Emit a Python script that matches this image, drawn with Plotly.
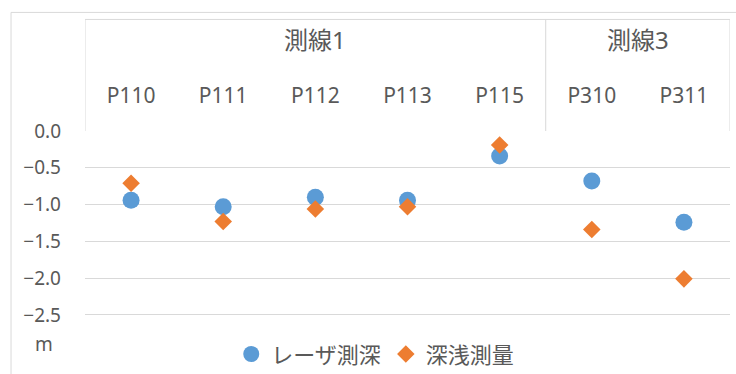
import plotly.graph_objects as go

categories = ["P110", "P111", "P112", "P113", "P115", "P310", "P311"]
groups = ["測線1", "測線1", "測線1", "測線1", "測線1", "測線3", "測線3"]
laser = [-0.94, -1.03, -0.90, -0.94, -0.34, -0.68, -1.24]
sounding = [-0.71, -1.23, -1.06, -1.03, -0.19, -1.34, -2.01]
y_ticks = [0.0, -0.5, -1.0, -1.5, -2.0, -2.5]

FONT = "Noto Sans, Noto Sans CJK JP"
TXT = "#595959"
GRID = "#d9d9d9"

fig = go.Figure()
fig.add_trace(go.Scatter(x=categories, y=laser, mode="markers", name="レーザ測深",
                         marker=dict(symbol="circle", size=17, color="#5B9BD5")))
fig.add_trace(go.Scatter(x=categories, y=sounding, mode="markers", name="深浅測量",
                         marker=dict(symbol="diamond", size=13.5, color="#ED7D31")))

# group labels and boxes
shapes = []
annotations = []
n = len(categories)
box_top = 1.603
start = 0
for i in range(1, n + 1):
    if i == n or groups[i] != groups[start]:
        center = (start + i - 1) / 2
        annotations.append(dict(x=center, y=1.495, xref="x", yref="paper", text=groups[start],
                                showarrow=False, font=dict(size=24, color=TXT, family=FONT),
                                xanchor="center", yanchor="middle"))
        shapes.append(dict(type="line", xref="x", yref="paper", x0=i - 0.5, x1=i - 0.5,
                           y0=1, y1=box_top, line=dict(color=GRID, width=1)))
        start = i
shapes.append(dict(type="line", xref="x", yref="paper", x0=-0.5, x1=-0.5, y0=1, y1=box_top,
                   line=dict(color=GRID, width=1)))
shapes.append(dict(type="line", xref="x", yref="paper", x0=-0.5, x1=n - 0.5, y0=box_top, y1=box_top,
                   line=dict(color=GRID, width=1)))
# outer chart border
shapes.append(dict(type="rect", xref="paper", yref="paper", x0=-0.1147, x1=1.05, y0=-0.4, y1=1.641,
                   line=dict(color=GRID, width=1)))

annotations.append(dict(x=-0.0636, y=-0.152, xref="paper", yref="paper", text="m", showarrow=False,
                        font=dict(size=19, color=TXT, family=FONT), xanchor="center", yanchor="middle"))

fig.update_layout(
    width=736, height=374,
    margin=dict(l=85, r=6, t=131, b=58, autoexpand=False),
    paper_bgcolor="white", plot_bgcolor="white",
    shapes=shapes, annotations=annotations,
    showlegend=True,
    legend=dict(orientation="h", x=0.45, y=0.053, xref="paper", yref="container",
                xanchor="center", yanchor="middle",
                font=dict(size=22, color=TXT, family=FONT), itemwidth=30),
    font=dict(family=FONT, color=TXT),
)
fig.update_xaxes(type="category", side="top", range=[-0.5, n - 0.5], showgrid=False,
                 showline=False, zeroline=False, ticks="", ticklabelstandoff=23,
                 tickfont=dict(size=21, color=TXT, family=FONT))
fig.update_yaxes(range=[-2.515, 0], tickvals=y_ticks, tickformat=".1f", showgrid=True, gridcolor=GRID,
                 zeroline=False, showline=False, ticks="", ticklabelstandoff=23,
                 tickfont=dict(size=19, color=TXT, family=FONT))

fig.write_html("out.html")
